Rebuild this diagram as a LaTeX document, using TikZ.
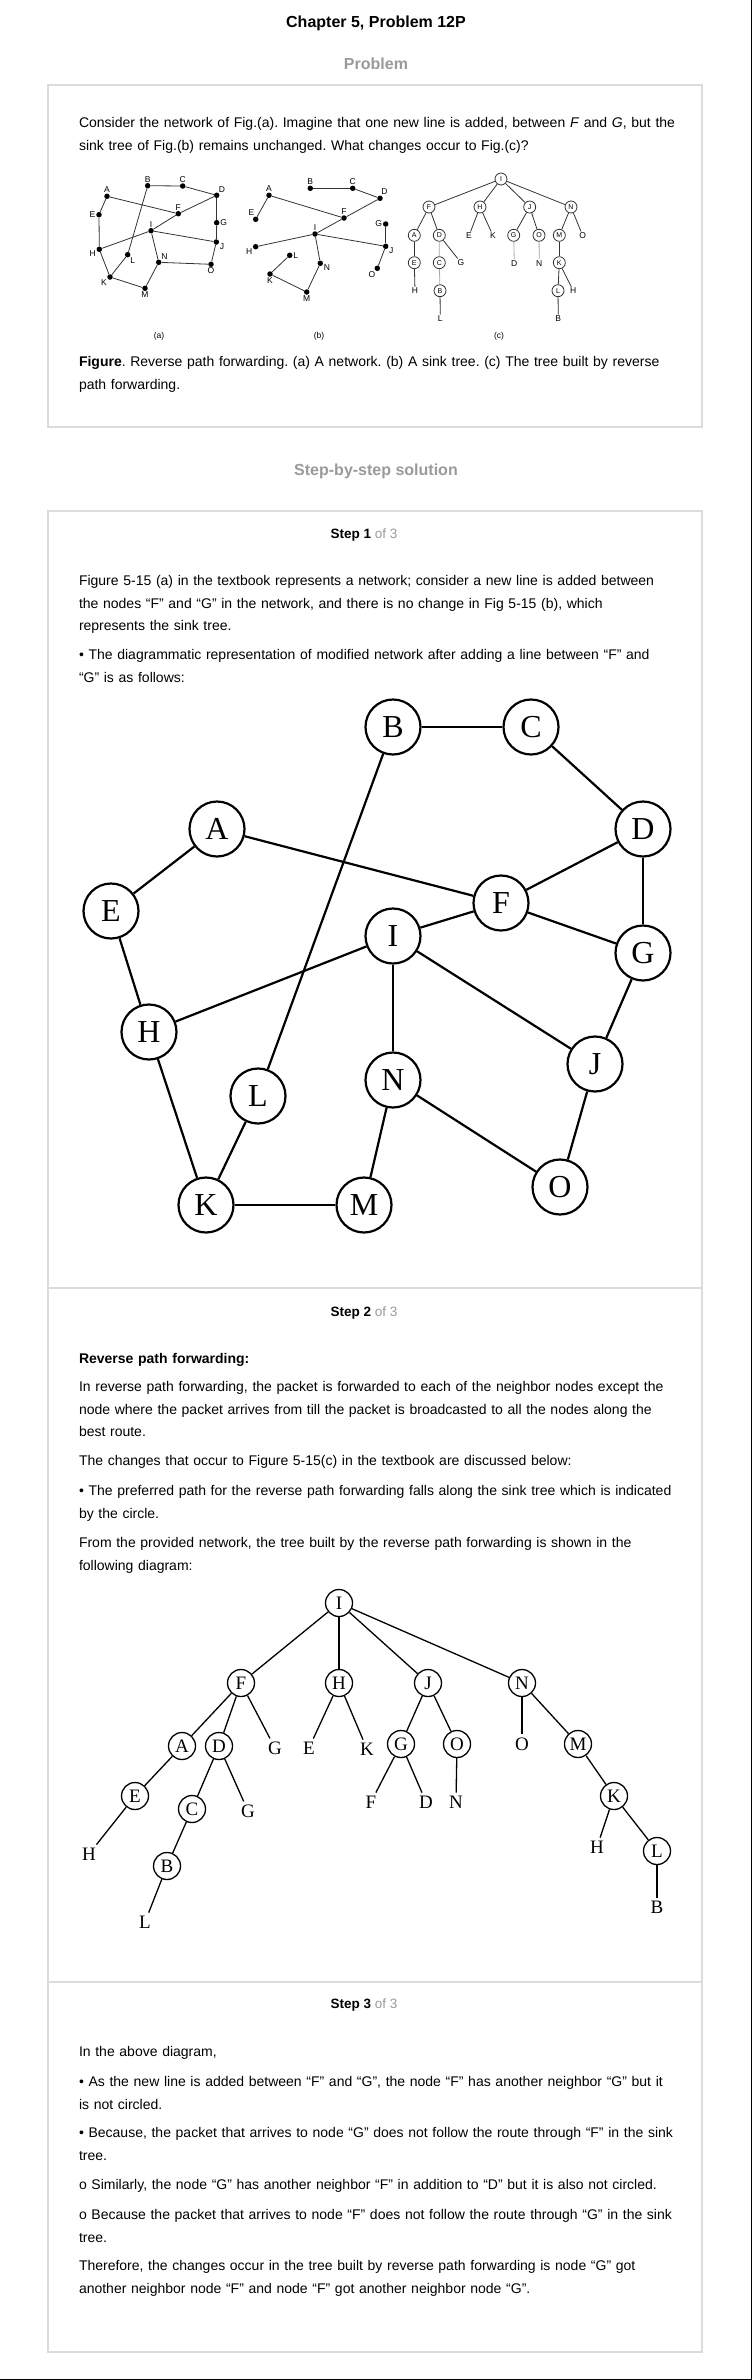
\documentclass[tikz,border=0pt]{standalone}
\usepackage{fontspec}
\setmainfont{Liberation Sans}
\newfontfamily\netfont{Liberation Serif}
\usetikzlibrary{positioning}
\frenchspacing

\definecolor{framegray}{HTML}{DCDCDC}
\definecolor{headgray}{HTML}{9A9A9A}
\definecolor{figline}{HTML}{333333}
\definecolor{figlight}{HTML}{A8A8A8}

\tikzset{
    frame/.style = {
        draw=framegray,
        line width=1.3pt,
    },
    head/.style = {
        anchor=base,
        inner sep=0,
        font=\bfseries\fontsize{16}{16}\selectfont,
    },
    stephead/.style = {
        anchor=base,
        inner sep=0,
        font=\fontsize{13.5}{13.5}\selectfont,
    },
    para/.style = {
        anchor=north west,
        inner sep=0,
        outer sep=0,
        text width=650pt,
        align=left,
        yshift=15.75pt,
        font=\fontsize{14}{22.5}\selectfont,
        execute at begin node=\strut,
    },
    dot/.style = {
        circle,
        fill=black,
        minimum size=5.5pt,
        inner sep=0,
        label distance=2pt,
    },
    mini line/.style = {
        draw=figline,
        line width=0.8pt,
    },
    minicirc/.style = {
        circle,
        draw=figline,
        line width=0.8pt,
        minimum size=12pt,
        inner sep=0,
        font=\fontsize{7}{7}\selectfont,
    },
    minileaf/.style = {
        inner sep=1pt,
        font=\fontsize{8.5}{8.5}\selectfont,
    },
    netnode/.style = {
        circle,
        draw,
        line width=2.2pt,
        minimum size=55pt,
        inner sep=0,
        font=\netfont\fontsize{32}{32}\selectfont,
    },
    netline/.style = {
        line width=2.2pt,
    },
    treenode/.style = {
        circle,
        draw,
        line width=1.3pt,
        minimum size=27pt,
        inner sep=0,
        font=\netfont\fontsize{19}{19}\selectfont,
    },
    treeleaf/.style = {
        inner sep=3pt,
        font=\netfont\fontsize{19}{19}\selectfont,
    },
    treeline/.style = {
        line width=1.3pt,
    },
}

\begin{document}
\begin{tikzpicture}[x=1pt, y=-1pt]

    % page
    \fill[white] (0,0) rectangle (752,2380);
    \useasboundingbox (0,0) rectangle (752,2380);
    \draw[line width=1.5pt] (751.25,0) -- (751.25,2379.25) -- (0,2379.25);

    % headings and boxes
    \node[head] (title) at (376,27) {Chapter 5, Problem 12P};
    \node[head, text=headgray] (probhead) at (376,69) {Problem};
    \node[head, text=headgray] (solhead) at (376,475) {Step-by-step solution};
    \draw[frame] (48,85) rectangle (702,427);
    \draw[frame] (48,511) rectangle (702,2352);
    \draw[frame] (48,1288) -- (702,1288);
    \draw[frame] (48,1982) -- (702,1982);

    % problem text
    \node[para] (prob) at (79,127.5) {Consider the network of Fig.(a). Imagine that one new line is added, between \textit{F} and \textit{G}, but the\\sink tree of Fig.(b) remains unchanged. What changes occur to Fig.(c)?};
    \node[para] (caption) at (79,366.5) {\textbf{Figure}. Reverse path forwarding. (a) A network. (b) A sink tree. (c) The tree built by reverse\\path forwarding.};

    % figure (a)
    \begin{scope}[every label/.style={inner sep=0.5pt, font=\fontsize{8.5}{8.5}\selectfont}]
        \foreach \n/\x/\y/\p in {
            A/107/196.3/90, B/147.7/185.7/90, C/182.7/186/90, D/216.7/195.3/60,
            E/99/214.7/180, F/178.3/213.7/90, G/216.7/222.7/0, H/99.3/249.3/200,
            I/151/230.7/90, J/216.3/242/-10, K/110/277/215, L/127.7/254.7/-50,
            M/145/288.3/-90, N/158.7/262.3/50, O/211/264.3/-90%
        } {
            \node[dot, label=\p:\n] (a\n) at (\x,\y) {};
        }
        \foreach \a/\b in {B/C, C/D, D/G, G/J, J/O, O/N, N/M, M/K, K/H, H/E,
                           E/A, A/F, F/D, F/I, I/H, I/J, I/N, B/L, L/K} {
            \draw[mini line] (a\a) -- (a\b);
        }

        % figure (b)
        \foreach \n/\x/\y/\p in {
            A/269/195.3/90, B/310.3/188.3/90, C/352.7/188.3/90, D/380/198.3/75,
            E/255.7/219.3/105, F/344/218/90, G/385.7/224/180, H/255.7/246.7/205,
            I/315/234/90, J/385.7/246.3/-20, K/270/274/-90, L/289.7/255.3/0,
            M/306.7/292/-90, N/320.3/263.3/-20, O/377.3/268.3/240%
        } {
            \node[dot, label=\p:\n] (b\n) at (\x,\y) {};
        }
        \foreach \a/\b in {B/C, C/D, D/F, F/A, A/E, F/I, I/H, I/J, I/N,
                           N/M, M/K, K/L, J/G, J/O} {
            \draw[mini line] (b\a) -- (b\b);
        }
    \end{scope}

    % figure (c)
    \foreach \n/\x/\y in {
        I/501/179, F/429/207, H/480/207, J/529.7/207, N/571/207,
        A/414.3/235.3, D/439.3/235.3, G/513.7/235.3, O/539/235.3, M/559.3/235.3,
        E/414.3/262.7, C/439.3/262.7, K/559.3/262.7, B/440/290.7, L/558/290.7%
    } {
        \node[minicirc] (c\n) at (\x,\y) {\n};
    }
    \foreach \n/\t/\x/\y in {
        HE/E/469/235.7, HK/K/493/235.7, NO/O/582.7/235.7, DG/G/461/262.7,
        GD/D/514.3/263.3, ON/N/539.3/263.3, EH/H/415/290.7, KH/H/573.3/291,
        BL/L/440.3/318.7, LB/B/558.3/318.7%
    } {
        \node[minileaf] (cl\n) at (\x,\y) {\t};
    }
    \foreach \a/\b in {I/F, I/H, I/J, I/N, F/A, F/D, J/G, J/O, N/M, A/E, M/K, K/L} {
        \draw[mini line] (c\a) -- (c\b);
    }
    \draw[mini line, draw=figlight] (cD) -- (cC) -- (cB);
    \foreach \a/\b in {H/HE, H/HK, N/NO, D/DG, E/EH, K/KH, B/BL, L/LB} {
        \draw[mini line] (c\a) -- (cl\b);
    }
    \draw[mini line, draw=figlight] (cG) -- (clGD);
    \draw[mini line, draw=figlight] (cO) -- (clON);

    \node[minileaf] (capa) at (159,336) {(a)};
    \node[minileaf] (capb) at (319,336) {(b)};
    \node[minileaf] (capc) at (499,336) {(c)};

    % step 1
    \node[stephead] (step1) at (364,538) {\textbf{Step 1} \textcolor{headgray}{of 3}};
    \node[para] (s1a) at (79,585.5) {Figure 5-15 (a) in the textbook represents a network; consider a new line is added between\\the nodes “F” and “G” in the network, and there is no change in Fig 5-15 (b), which\\represents the sink tree.};
    \node[para] (s1b) at (79,659.5) {• The diagrammatic representation of modified network after adding a line between “F” and\\“G” is as follows:};

    % modified network
    \foreach \n/\x/\y in {
        A/217/829, B/393/727, C/531/727, D/643/829, E/111/911,
        F/501/903, G/643/953, H/149/1032, I/393/936, J/595/1064,
        K/206/1205, L/258/1096, M/364/1205, N/393/1080, O/560/1187%
    } {
        \node[netnode] (n\n) at (\x,\y) {\n};
    }
    \foreach \a/\b in {B/C, C/D, A/E, A/F, B/L, D/F, D/G, F/I, F/G, E/H,
                       H/I, I/N, I/J, G/J, H/K, L/K, N/M, N/O, J/O, K/M} {
        \draw[netline] (n\a) -- (n\b);
    }

    % step 2
    \node[stephead] (step2) at (364,1316) {\textbf{Step 2} \textcolor{headgray}{of 3}};
    \node[para] (s2a) at (79,1363) {\textbf{Reverse path forwarding:}};
    \node[para] (s2b) at (79,1391.5) {In reverse path forwarding, the packet is forwarded to each of the neighbor nodes except the\\node where the packet arrives from till the packet is broadcasted to all the nodes along the\\best route.};
    \node[para] (s2c) at (79,1465.5) {The changes that occur to Figure 5-15(c) in the textbook are discussed below:};
    \node[para] (s2d) at (79,1495.5) {• The preferred path for the reverse path forwarding falls along the sink tree which is indicated\\by the circle.};
    \node[para] (s2e) at (79,1547.5) {From the provided network, the tree built by the reverse path forwarding is shown in the\\following diagram:};

    % tree built by reverse path forwarding
    \foreach \n/\x/\y in {
        I/339/1603, F/241/1683, H/339/1683, J/428/1683, N/522/1683,
        A/182/1746, D/219/1746, G/401/1744, O/457/1744, M/578/1744,
        E/135/1796, C/192/1809, K/614/1796, B/167/1866, L/657/1851%
    } {
        \node[treenode] (t\n) at (\x,\y) {\n};
    }
    \foreach \n/\t/\x/\y in {
        FG/G/275/1748, HE/E/309/1748, HK/K/367/1749, NO/O/522/1744,
        DG/G/248/1811, GF/F/371/1802, GD/D/426/1802, ON/N/456/1802,
        EH/H/89/1854, KH/H/597/1847, BL/L/145/1922, LB/B/657/1907%
    } {
        \node[treeleaf] (tl\n) at (\x,\y) {\t};
    }
    \foreach \a/\b in {I/F, I/H, I/J, I/N, F/A, F/D, J/G, J/O, N/M,
                       A/E, D/C, C/B, M/K, K/L} {
        \draw[treeline] (t\a) -- (t\b);
    }
    \foreach \a/\b in {F/FG, H/HE, H/HK, N/NO, D/DG, G/GF, G/GD, O/ON,
                       E/EH, K/KH, B/BL, L/LB} {
        \draw[treeline] (t\a) -- (tl\b);
    }

    % step 3
    \node[stephead] (step3) at (364,2008) {\textbf{Step 3} \textcolor{headgray}{of 3}};
    \node[para] (s3a) at (79,2056.5) {In the above diagram,};
    \node[para] (s3b) at (79,2086.5) {• As the new line is added between “F” and “G”, the node “F” has another neighbor “G” but it\\is not circled.};
    \node[para] (s3c) at (79,2137.5) {• Because, the packet that arrives to node “G” does not follow the route through “F” in the sink\\tree.};
    \node[para] (s3d) at (79,2189.5) {o Similarly, the node “G” has another neighbor “F” in addition to “D” but it is also not circled.};
    \node[para] (s3e) at (79,2219.5) {o Because the packet that arrives to node “F” does not follow the route through “G” in the sink\\tree.};
    \node[para] (s3f) at (79,2270.5) {Therefore, the changes occur in the tree built by reverse path forwarding is node “G” got\\another neighbor node “F” and node “F” got another neighbor node “G”.};

\end{tikzpicture}
\end{document}
